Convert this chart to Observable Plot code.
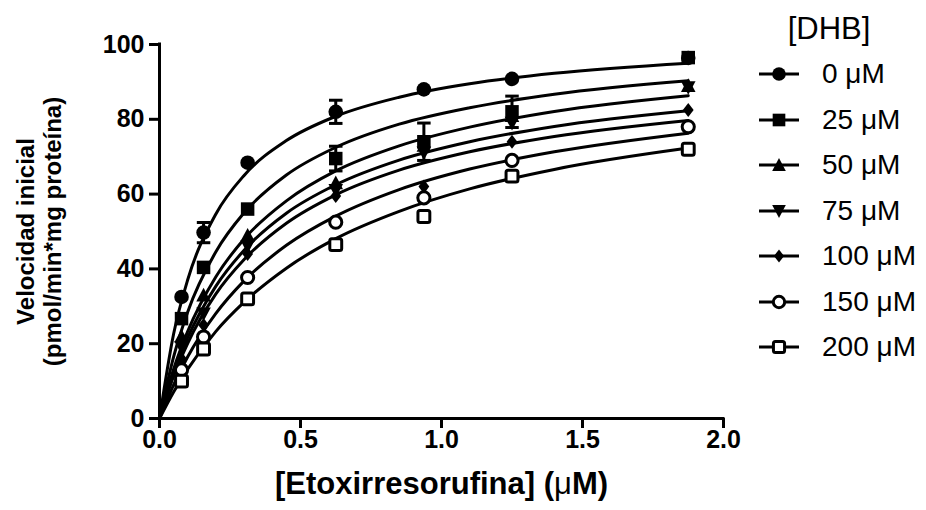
<!DOCTYPE html>
<html><head><meta charset="utf-8">
<script src="https://cdn.jsdelivr.net/npm/d3@7"></script>
<script src="https://cdn.jsdelivr.net/npm/@observablehq/plot@0.6"></script>
<style>
html,body{margin:0;padding:0;background:#fff;}
#wrap{position:relative;width:926px;height:510px;font-family:"Liberation Sans",Arial,sans-serif;overflow:hidden;}
#chart{position:absolute;left:0;top:0;}
#chart svg text{font-weight:bold;}
.lg{position:absolute;white-space:nowrap;color:#000;}
</style></head><body>
<div id="wrap"><div id="chart"></div><div id="legend"></div></div>
<script>
// ---- data ----
const xConc = [0.078125, 0.15625, 0.3125, 0.625, 0.9375, 1.25, 1.875];   // [Etoxirresorufina] µM
const dhbLabels = ["0 μM", "25 μM", "50 μM", "75 μM", "100 μM", "150 μM", "200 μM"];
const v0   = [32.5, 49.7, 68.4, 82.0, 88.0, 90.8, 96.4];
const v25  = [26.7, 40.4, 56.0, 69.5, 74.0, 82.0, 96.5];
const v50  = [22.0, 33.0, 49.0, 63.0, 73.0, 81.0, 89.0];
const v75  = [19.0, 28.0, 46.0, 61.0, 71.0, 79.0, 88.5];
const v100 = [16.0, 25.0, 44.0, 59.5, 62.0, 74.0, 82.5];
const v150 = [13.0, 21.8, 37.7, 52.5, 59.0, 69.0, 78.0];
const v200 = [10.0, 18.6, 32.0, 46.5, 54.0, 64.8, 72.0];
// error bars (half-lengths, 0 = none visible)
const e0   = [0, 2.7, 0, 3.1, 0, 0, 0];
const e25  = [0, 0, 0, 3.3, 5.0, 4.2, 0];
const eNone = [0, 0, 0, 0, 0, 0, 0];
// fitted curves
const fitX   = [0, 0.05, 0.1, 0.2, 0.3, 0.45, 0.625, 0.85, 1.1, 1.4, 1.875];
const fit0   = [0, 22.6, 37.1, 54.7, 65.0, 74.3, 80.8, 85.9, 89.5, 92.3, 95.0];
const fit25  = [0, 16.5, 28.5, 44.6, 55.0, 65.1, 72.5, 78.7, 83.1, 86.7, 90.3];
const fit50  = [0, 13.2, 23.3, 37.9, 48.0, 58.2, 66.2, 72.9, 77.9, 82.1, 86.3];
const fit75  = [0, 12.2, 21.6, 35.4, 45.0, 54.9, 62.5, 69.1, 74.0, 78.1, 82.3];
const fit100 = [0, 11.3, 20.1, 33.3, 42.5, 52.2, 59.8, 66.4, 71.3, 75.4, 79.7];
const fit150 = [0, 9.0, 16.5, 28.1, 36.8, 46.3, 54.1, 61.2, 66.7, 71.3, 76.3];
const fit200 = [0, 7.1, 13.2, 23.3, 31.1, 40.2, 48.1, 55.4, 61.4, 66.6, 72.3];
const xTicks = [0, 0.5, 1.0, 1.5, 2.0];
const yTicks = [0, 20, 40, 60, 80, 100];
const xTitle = "[Etoxirresorufina] (μM)";
const yTitle = "Velocidad inicial\n(pmol/min*mg proteína)";
const legendTitle = "[DHB]";

// ---- marker shapes ----
const sym = {
  circle: {draw(c, size){ const s = Math.sqrt(size); const r = s*0.54; c.moveTo(r,0); c.arc(0,0,r,0,2*Math.PI); }},
  square: {draw(c, size){ const h = Math.sqrt(size)*0.5; c.rect(-h,-h,2*h,2*h); }},
  triUp: {draw(c, size){ const s = Math.sqrt(size); const w = s*0.54, h = s*0.47; c.moveTo(0,-h-1); c.lineTo(w,h); c.lineTo(-w,h); c.closePath(); }},
  triDown: {draw(c, size){ const s = Math.sqrt(size); const w = s*0.54, h = s*0.47; c.moveTo(0,h+1); c.lineTo(w,-h); c.lineTo(-w,-h); c.closePath(); }},
  diamond: {draw(c, size){ const s = Math.sqrt(size); const w = s*0.4, h = s*0.52; c.moveTo(0,-h); c.lineTo(w,0); c.lineTo(0,h); c.lineTo(-w,0); c.closePath(); }},
  openCircle: {draw(c, size){ const r = Math.sqrt(size)*0.45; c.moveTo(r,0); c.arc(0,0,r,0,2*Math.PI); }},
  openSquare: {draw(c, size){ const h = Math.sqrt(size)*0.44, k = 2; c.moveTo(-h+k,-h); c.lineTo(h-k,-h); c.quadraticCurveTo(h,-h,h,-h+k); c.lineTo(h,h-k); c.quadraticCurveTo(h,h,h-k,h); c.lineTo(-h+k,h); c.quadraticCurveTo(-h,h,-h,h-k); c.lineTo(-h,-h+k); c.quadraticCurveTo(-h,-h,-h+k,-h); c.closePath(); }},
  cap: {draw(c, size){ const w = Math.sqrt(size)*0.5; c.moveTo(-w,0); c.lineTo(w,0); }}
};
const R = 13.5 / Math.sqrt(Math.PI); // symbol base size ~13.5 px

const values = [v0, v25, v50, v75, v100, v150, v200];
const errs = [e0, e25, eNone, eNone, eNone, eNone, eNone];
const fits = [fit0, fit25, fit50, fit75, fit100, fit150, fit200];
const shapes = [sym.circle, sym.square, sym.triUp, sym.triDown, sym.diamond, sym.openCircle, sym.openSquare];
const isOpen = [false, false, false, false, false, true, true];

const series = dhbLabels.map((name, i) => ({name, vals: values[i], err: errs[i], fit: fits[i], shape: shapes[i], open: isOpen[i]}));
const points = series.flatMap(s => xConc.map((x, j) => ({name: s.name, x, y: s.vals[j], e: s.err[j]})));
const errPts = points.filter(d => d.e > 0);
const fitPts = series.flatMap(s => fitX.map((x, j) => ({name: s.name, x, y: s.fit[j]})));

const FONT = '"Liberation Sans", Arial, sans-serif';
const chart = Plot.plot({
  width: 740, height: 510,
  marginLeft: 159, marginRight: 17, marginTop: 44, marginBottom: 92,
  style: {fontFamily: FONT, color: "black", background: "white", overflow: "visible"},
  x: {domain: [0, 2]},
  y: {domain: [0, 100]},
  marks: [
    Plot.line(fitPts, {x: "x", y: "y", z: "name", curve: "monotone-x", stroke: "black", strokeWidth: 3}),
    Plot.ruleX(errPts, {x: "x", y1: d => d.y - d.e, y2: d => d.y + d.e, stroke: "black", strokeWidth: 3}),
    Plot.dot(errPts, {x: "x", y: d => d.y + d.e, symbol: sym.cap, r: R, stroke: "black", fill: "none", strokeWidth: 3}),
    Plot.dot(errPts, {x: "x", y: d => d.y - d.e, symbol: sym.cap, r: R, stroke: "black", fill: "none", strokeWidth: 3}),
    ...series.map(s => Plot.dot(points.filter(d => d.name === s.name), {
      x: "x", y: "y", symbol: s.shape, r: R,
      fill: s.open ? "white" : "black", stroke: s.open ? "black" : "none", strokeWidth: s.open ? 3 : 0
    })),
    Plot.ruleX([0], {stroke: "black", strokeWidth: 3, strokeLinecap: "square"}),
    Plot.ruleY([0], {stroke: "black", strokeWidth: 3, strokeLinecap: "square"}),
    Plot.axisX({ticks: xTicks, tickFormat: d3.format(".1f"), tickSize: 10, tickPadding: 2, strokeWidth: 3, fontSize: 25, fontWeight: "bold", label: null}),
    Plot.axisY({ticks: yTicks, tickFormat: d3.format("d"), tickSize: 10, tickPadding: 5, strokeWidth: 3, fontSize: 25, fontWeight: "bold", label: null}),
    Plot.text([xTitle], {frameAnchor: "bottom", dy: 75, fontSize: 31, fontWeight: "bold", fill: "black", textAnchor: "middle"}),
    Plot.text([yTitle], {frameAnchor: "left", dx: -121, rotate: -90, fontSize: 24, fontWeight: "bold", lineHeight: 1.12, fill: "black", textAnchor: "middle"})
  ]
});
document.getElementById("chart").appendChild(chart);
// lighter Greek mu in the x title, as in the reference
d3.select(chart).selectAll("text").filter(function(){ return this.textContent === xTitle; }).each(function(){
  const t = d3.select(this); t.text(null);
  const parts = xTitle.split("μ");
  t.append("tspan").text(parts[0]);
  t.append("tspan").attr("font-weight", "normal").style("font-weight", "normal").text("μ");
  t.append("tspan").text(parts[1]);
});

// ---- legend (HTML, to the right of the plot) ----
const lg = document.getElementById("legend");
const title = document.createElement("div");
title.className = "lg";
title.textContent = legendTitle;
Object.assign(title.style, {left: "769px", width: "120px", textAlign: "center", top: "11px", fontSize: "31px", lineHeight: "36px"});
lg.appendChild(title);
series.forEach((s, i) => {
  const cy = 74 + 45.5 * i;
  const svg = d3.create("svg").attr("width", 50).attr("height", 24)
    .style("position", "absolute").style("left", "755px").style("top", (cy - 12) + "px");
  svg.append("line").attr("x1", 4).attr("x2", 44).attr("y1", 12).attr("y2", 12).attr("stroke", "black").attr("stroke-width", 3);
  svg.append("path").attr("transform", "translate(24,12)")
    .attr("d", d3.symbol(s.shape, 160)())
    .attr("fill", s.open ? "white" : "black").attr("stroke", s.open ? "black" : "none").attr("stroke-width", s.open ? 3 : 0);
  lg.appendChild(svg.node());
  const t = document.createElement("div");
  t.className = "lg";
  t.textContent = s.name;
  Object.assign(t.style, {left: "822px", top: (cy - 17) + "px", fontSize: "28px", lineHeight: "34px"});
  lg.appendChild(t);
});
</script>
</body></html>
